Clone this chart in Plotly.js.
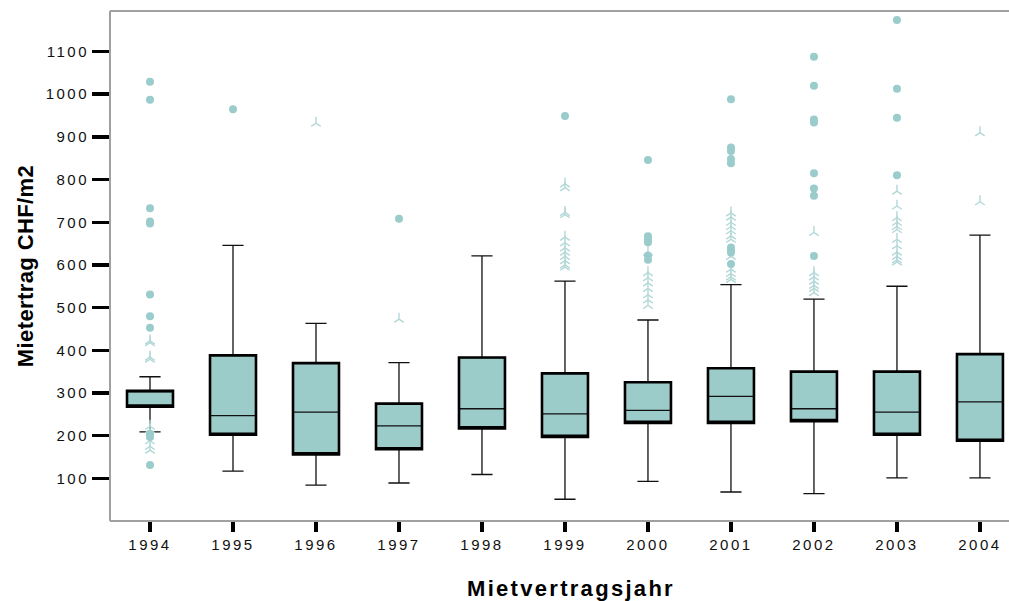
<!DOCTYPE html>
<html>
<head>
<meta charset="utf-8">
<script src="https://cdn.plot.ly/plotly-3.0.1.min.js"></script>
<style>
  html, body { margin: 0; padding: 0; background: #fff; overflow: hidden; }
  #chart { width: 1009px; height: 601px; }
  .xtick text, .ytick text { letter-spacing: 2.5px; }
  .annotation-text { letter-spacing: 2.3px; }
  .g-ytitle text { letter-spacing: 0.4px; }
</style>
</head>
<body>
<div id="chart"></div>
<script>
// ---- data ----
const years = ["1994","1995","1996","1997","1998","1999","2000","2001","2002","2003","2004"];
const lowerWhisker = [209, 117,  84,  89, 109,  51,  93,  68,  64, 101, 101];
const q1Values     = [268, 202, 156, 168, 217, 197, 230, 230, 234, 202, 188];
const medianValues = [304, 247, 255, 223, 263, 251, 259, 292, 263, 255, 279];
const q3Values     = [305, 388, 370, 275, 383, 346, 325, 358, 350, 350, 391];
const upperWhisker = [338, 646, 463, 371, 621, 562, 471, 554, 520, 550, 670];

// outliers (filled symbols) per year
const out1994 = [1029, 987, 733, 702, 697, 531, 480, 453, 204, 197, 131];
const out1995 = [965];
const out1996 = [];
const out1997 = [708];
const out1998 = [];
const out1999 = [949];
const out2000 = [846, 667, 660, 653, 622, 612];
const out2001 = [988, 875, 867, 848, 838, 641, 635, 629, 602];
const out2002 = [1088, 1020, 941, 934, 815, 779, 762, 621];
const out2003 = [1174, 1013, 945, 810];
const out2004 = [];

// extreme values (light open symbols) per year
const ext1994 = [422, 418, 384, 379, 222, 214, 188, 175, 166];
const ext1995 = [];
const ext1996 = [932];
const ext1997 = [473];
const ext1998 = [];
const ext1999 = [790, 781, 723, 718, 665, 652, 640, 630, 620, 610, 600, 595];
const ext2000 = [630, 582, 570, 558, 545, 530, 518, 505];
const ext2001 = [722, 712, 700, 690, 680, 668, 660, 620, 590, 580, 572, 566];
const ext2002 = [676, 582, 572, 562, 552, 545, 535];
const ext2003 = [773, 738, 711, 700, 690, 683, 660, 645, 630, 620, 612, 607];
const ext2004 = [910, 748];

const yTicks = [100, 200, 300, 400, 500, 600, 700, 800, 900, 1000, 1100];
const xTitle = 'Mietvertragsjahr';
const yTitle = 'Mietertrag CHF/m2';

// ---- build traces ----
const outLists = [out1994, out1995, out1996, out1997, out1998, out1999, out2000, out2001, out2002, out2003, out2004];
const extLists = [ext1994, ext1995, ext1996, ext1997, ext1998, ext1999, ext2000, ext2001, ext2002, ext2003, ext2004];

const outX = [], outY = [], extX = [], extY = [];
years.forEach((yr, i) => {
  outLists[i].forEach(v => { outX.push(yr); outY.push(v); });
  extLists[i].forEach(v => { extX.push(yr); extY.push(v); });
});

const boxFill = '#9BCCCA';
const fontFam = 'Liberation Sans, Arial, sans-serif';
const frameColor = '#A0A0A0';

const boxMain = {
  type: 'box',
  x: years,
  q1: q1Values,
  median: medianValues,
  q3: q3Values,
  lowerfence: lowerWhisker,
  upperfence: upperWhisker,
  boxpoints: false,
  fillcolor: boxFill,
  line: { color: '#111', width: 1.3 },
  whiskerwidth: 0.46,
  width: 0.554,
  hoverinfo: 'skip',
  showlegend: false
};

const boxBorder = {
  type: 'box',
  x: years,
  q1: q1Values,
  median: q1Values,
  q3: q3Values,
  lowerfence: q1Values,
  upperfence: q3Values,
  boxpoints: false,
  fillcolor: 'rgba(0,0,0,0)',
  line: { color: '#000', width: 2.6 },
  whiskerwidth: 0,
  width: 0.554,
  hoverinfo: 'skip',
  showlegend: false
};

const extremes = {
  type: 'scatter',
  mode: 'markers',
  x: extX,
  y: extY,
  marker: { symbol: 'y-up-open', size: 8, color: '#B2D8D7', line: { color: '#B2D8D7', width: 1.4 } },
  hoverinfo: 'skip',
  showlegend: false,
  cliponaxis: false
};

const outliers = {
  type: 'scatter',
  mode: 'markers',
  x: outX,
  y: outY,
  marker: { symbol: 'circle', size: 8, color: '#99CCCB' },
  hoverinfo: 'skip',
  showlegend: false,
  cliponaxis: false
};

const layout = {
  width: 1009,
  height: 601,
  margin: { l: 110, r: 0, t: 11, b: 80 },
  paper_bgcolor: '#fff',
  plot_bgcolor: '#fff',
  showlegend: false,
  font: { family: fontFam, color: '#111' },
  xaxis: {
    type: 'category',
    categoryorder: 'array',
    categoryarray: years,
    range: [-0.482, 10.35],
    showgrid: false,
    zeroline: false,
    showline: false,
    ticks: 'outside',
    ticklen: 10,
    tickwidth: 4,
    tickcolor: '#000',
    tickfont: { size: 15, color: '#111', family: fontFam },
    fixedrange: true
  },
  yaxis: {
    range: [0, 1195],
    tickmode: 'array',
    tickvals: yTicks,
    ticktext: yTicks.map(String),
    showgrid: false,
    zeroline: false,
    showline: false,
    ticks: 'outside',
    ticklen: 17,
    tickwidth: 3.5,
    tickcolor: '#000',
    tickfont: { size: 15, color: '#111', family: fontFam },
    title: {
      text: yTitle,
      font: { size: 22, color: '#000', family: fontFam, weight: 'bold' },
      standoff: 5
    },
    fixedrange: true
  },
  shapes: [
    { type: 'line', xref: 'paper', yref: 'paper', x0: 0, x1: 1, y0: 1, y1: 1,
      line: { color: frameColor, width: 2 } },
    { type: 'line', xref: 'paper', yref: 'paper', x0: 0, x1: 1, y0: 0, y1: 0,
      line: { color: frameColor, width: 2 } },
    { type: 'line', xref: 'paper', yref: 'paper', x0: 0, x1: 0, y0: 0, y1: 1,
      line: { color: frameColor, width: 2 } }
  ],
  annotations: [
    { text: xTitle, xref: 'paper', yref: 'paper', x: 0.5128, y: -0.133,
      xanchor: 'center', yanchor: 'middle', showarrow: false,
      font: { size: 22, color: '#000', family: fontFam, weight: 'bold' } }
  ]
};

Plotly.newPlot('chart', [boxMain, boxBorder, extremes, outliers], layout, { staticPlot: true, displayModeBar: false });
</script>
</body>
</html>
